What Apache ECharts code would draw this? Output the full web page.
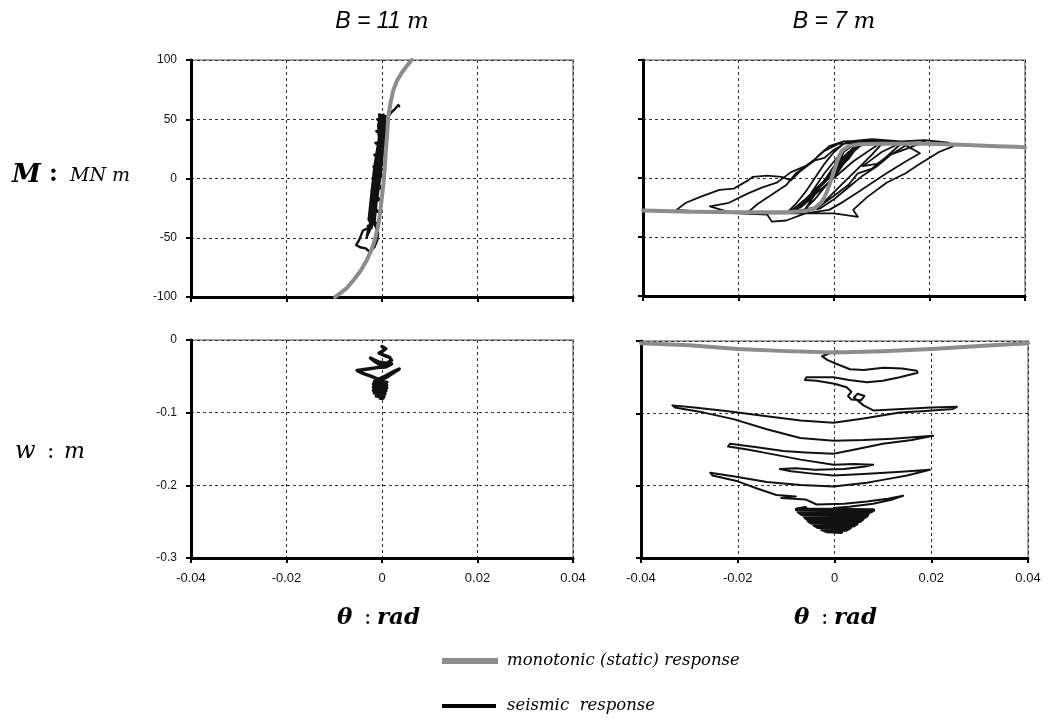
<!DOCTYPE html>
<html>
<head>
<meta charset="utf-8">
<script src="https://cdn.jsdelivr.net/npm/echarts@6/dist/echarts.min.js"></script>
<style>
html,body{margin:0;padding:0;background:#fff;}
#chart{width:1048px;height:724px;}
</style>
</head>
<body>
<div id="chart"></div>
<script>
// ---------- data (theta [rad], value) ----------
const xTicks = [-0.04, -0.02, 0, 0.02, 0.04];
const momentTicks = [-100, -50, 0, 50, 100];
const settleTicks = [-0.3, -0.2, -0.1, 0];

// B = 11 m, moment M (MN m)
const monoB11_M = [
  [-0.0098,-100],[-0.0075,-93],[-0.0060,-86],[-0.0045,-78],[-0.0032,-69],[-0.0022,-60],
  [-0.0015,-52],[-0.0008,-40],[-0.0004,-29],[0.0000,-15],[0.0003,-4],[0.0006,10],
  [0.0008,24],[0.0011,38],[0.0013,52],[0.0018,64],[0.0024,75],[0.0032,83],
  [0.0041,89],[0.0052,95],[0.0062,100]
];
const seisB11_M = [
  [-0.0030,-40],[-0.0012,-38],[-0.0026,-30],[-0.0008,-28],[-0.0024,-20],[-0.0004,-18],
  [-0.0022,-10],[0.0000,-8],[-0.0020,0],[0.0004,2],[-0.0018,10],[0.0006,12],[-0.0016,20],
  [0.0008,22],[-0.0014,30],[0.0010,32],[-0.0012,40],[0.0012,42],[-0.0010,50],[0.0014,52],
  [-0.0006,54],[-0.0004,40],[-0.0016,10],[-0.0028,-35],[-0.0020,-38],[-0.0006,5],
  [0.0004,45],[0.0008,52],[0.0002,30],[-0.0006,0],[-0.0014,-25],[-0.0022,-40],
  [-0.0028,-46],[-0.0020,-30],[-0.0014,-5],[-0.0008,20],[-0.0004,40],[-0.0002,50],
  [0.0003,54],[0.0006,45],[-0.0002,20],[-0.0010,-8],[-0.0018,-28],[-0.0030,-45],
  [-0.0032,-50],[-0.0024,-40],[-0.0016,-15],[-0.0010,10],[-0.0006,30],[-0.0008,45],
  [-0.0004,52],[0.0002,48],[-0.0004,25],[-0.0012,-2],[-0.0020,-22],[-0.0026,-36],
  [-0.0022,-42],[-0.0012,-20],[-0.0006,5],[0.0000,28],[0.0006,48],
  [-0.0004,35],[-0.0012,10],[-0.0020,-15],[-0.0024,-32],[-0.0018,-38],[-0.0030,-42],
  [-0.0040,-44],[-0.0048,-52],[-0.0054,-56],[-0.0046,-58],[-0.0034,-59],[-0.0026,-62],
  [-0.0016,-58],[-0.0010,-52],[-0.0008,-46],[-0.0016,-38],[-0.0012,-22],[-0.0004,0],
  [0.0002,22],[0.0008,42],[0.0012,52],[0.0020,56],[0.0028,59],[0.0034,62],[0.0036,61]
];

// B = 7 m, moment M (MN m)
const monoB7_M = [
  [-0.040,-27.5],[-0.030,-28.5],[-0.020,-29],[-0.010,-29],[-0.006,-28],[-0.004,-25.5],
  [-0.0025,-20],[-0.0015,-12],[-0.0008,-4],[0.0000,6],[0.0008,16],[0.0016,23],
  [0.0030,27],[0.0050,28.5],[0.0100,29],[0.0200,29],[0.0280,28],[0.0340,27],
  [0.0380,26.5],[0.0400,26]
];
const seisB7_M = [
  [0.000,0],[0.001,12],[0.002,22],[0.004,28],[0.007,30],[0.010,29],
  [0.008,20],[0.005,8],[0.002,-4],[-0.001,-16],[-0.003,-24],[-0.006,-29],[-0.010,-30],
  [-0.008,-22],[-0.006,-12],[-0.004,0],[-0.002,12],[0.000,22],[0.002,29],[0.006,31],[0.012,30],[0.016,30],
  [0.012,20],[0.009,10],[0.006,2],[0.003,-8],[0.000,-18],[-0.003,-26],[-0.008,-29],[-0.014,-30],[-0.018,-29],
  [-0.016,-22],[-0.013,-14],[-0.010,-6],[-0.008,4],[-0.006,9],[-0.004,15],[-0.002,17],[0.000,24],
  [0.003,31],[0.008,33],[0.014,31],[0.019,32],[0.024,30],[0.025,27],
  [0.022,22],[0.018,12],[0.015,4],[0.011,-4],[0.007,-16],[0.004,-27],[0.005,-33],[0.000,-30],
  [-0.006,-30],[-0.010,-36],[-0.013,-37],[-0.014,-31],[-0.020,-30],[-0.026,-29],[-0.033,-27],
  [-0.031,-21],[-0.028,-16],[-0.024,-10],[-0.021,-9],[-0.018,-2],[-0.017,1],[-0.014,2],
  [-0.011,1],[-0.009,-2],[-0.007,6],[-0.005,12],[-0.003,20],[-0.001,27],[0.002,31],
  [0.008,32],[0.014,30],[0.018,21],
  [0.015,14],[0.011,4],[0.008,-4],[0.005,-12],[0.002,-20],[-0.001,-27],[-0.006,-30],
  [-0.012,-30],[-0.022,-29],[-0.026,-24],
  [-0.022,-21],[-0.018,-13],[-0.015,-8],[-0.012,-4],[-0.009,5],[-0.006,10],[-0.004,16],
  [-0.002,23],[0.001,29],[0.006,30],[0.014,29],
  [0.011,18],[0.008,8],[0.005,4],[0.003,-6],[0.000,-15],[-0.003,-24],[-0.008,-28],
  [-0.006,-20],[-0.004,-8],[-0.002,4],[0.000,14],[0.002,24],[0.005,29],
  [0.003,18],[0.001,6],[-0.002,-8],[-0.004,-18],[-0.006,-26],
  [-0.004,-14],[-0.002,-2],[0.000,10],[0.003,22],[0.006,28],[0.010,30],
  [0.008,25],[0.004,14],[0.000,0],[-0.004,-14],[-0.007,-24],[-0.009,-28],
  [-0.006,-18],[-0.003,-6],[0.000,6],[0.002,16],[0.004,26],[0.002,14],[-0.001,2],
  [-0.004,-10],[-0.006,-20],[-0.008,-26],[-0.005,-14],[-0.002,-2],[0.001,10],[0.003,20],
  [0.005,27],[0.003,16],[0.000,4],[-0.003,-8],[-0.005,-18],[-0.007,-25],[-0.004,-12],
  [-0.001,0],[0.002,12],[0.004,22],[0.006,29],[0.009,31],[0.012,31],[0.013,28],
  [0.010,22],[0.008,16],[0.006,10],[0.009,12],[0.012,20],[0.016,26],[0.019,31]
];

// B = 11 m, settlement w (m)
const seisB11_w = [
  [0.0000,-0.009],[0.0008,-0.012],[0.0002,-0.015],[-0.0006,-0.018],[0.0004,-0.021],
  [0.0016,-0.024],[0.0020,-0.028],[0.0010,-0.032],[-0.0004,-0.031],[-0.0018,-0.027],
  [-0.0024,-0.025],[-0.0016,-0.029],[-0.0004,-0.034],[0.0010,-0.036],[0.0020,-0.033],
  [0.0008,-0.037],[-0.0010,-0.038],[-0.0030,-0.040],[-0.0052,-0.042],[-0.0056,-0.044],
  [-0.0040,-0.046],[-0.0022,-0.050],[-0.0008,-0.054],[0.0006,-0.050],[0.0020,-0.045],
  [0.0036,-0.040],[0.0040,-0.038],[0.0026,-0.044],[0.0010,-0.051],[-0.0004,-0.056],
  [-0.0016,-0.057],[0.0010,-0.058],[-0.0018,-0.061],[0.0010,-0.062],[-0.0018,-0.065],
  [0.0010,-0.066],[-0.0018,-0.069],[0.0008,-0.070],[-0.0016,-0.073],[0.0006,-0.074],
  [-0.0012,-0.077],[0.0004,-0.078],[-0.0004,-0.080],[0.0002,-0.080]
];

// B = 7 m, settlement w (m)
const monoB7_w = [
  [-0.040,-0.003],[-0.030,-0.006],[-0.020,-0.011],[-0.010,-0.014],[0.000,-0.016],
  [0.010,-0.014],[0.020,-0.011],[0.030,-0.007],[0.040,-0.003]
];
const seisB7_w = [
  [0.0005,-0.014],[-0.0010,-0.017],[-0.0026,-0.021],[-0.0015,-0.026],[-0.0002,-0.030],
  [0.0032,-0.039],[0.0060,-0.040],[0.0101,-0.037],[0.0140,-0.038],[0.0170,-0.041],
  [0.0172,-0.044],[0.0135,-0.050],[0.0100,-0.055],[0.0067,-0.057],[0.0030,-0.054],
  [-0.0002,-0.050],[-0.0040,-0.050],[-0.0058,-0.050],[-0.0061,-0.054],[-0.0037,-0.055],
  [0.0000,-0.059],[0.0025,-0.064],[0.0035,-0.070],[0.0028,-0.076],[0.0035,-0.081],
  [0.0055,-0.082],[0.0062,-0.076],[0.0048,-0.073],[0.0040,-0.078],[0.0060,-0.089],
  [0.0080,-0.096],[0.0140,-0.094],[0.0200,-0.092],[0.0253,-0.091],[0.0245,-0.094],
  [0.0180,-0.097],[0.0135,-0.099],[0.0060,-0.107],[-0.0002,-0.113],[-0.0070,-0.110],
  [-0.0140,-0.104],[-0.0220,-0.097],[-0.0290,-0.092],[-0.0335,-0.089],[-0.0330,-0.092],
  [-0.0270,-0.099],[-0.0209,-0.108],[-0.0140,-0.122],[-0.0071,-0.134],[-0.0002,-0.138],
  [0.0060,-0.137],[0.0120,-0.135],[0.0204,-0.131],[0.0160,-0.137],[0.0100,-0.142],
  [0.0050,-0.149],[-0.0002,-0.156],[-0.0060,-0.154],[-0.0106,-0.152],[-0.0160,-0.147],
  [-0.0216,-0.142],[-0.0220,-0.146],[-0.0180,-0.150],[-0.0140,-0.155],[-0.0070,-0.164],
  [-0.0002,-0.171],[0.0040,-0.170],[0.0080,-0.171],[0.0060,-0.174],[0.0020,-0.177],
  [-0.0040,-0.178],[-0.0080,-0.176],[-0.0113,-0.177],[-0.0090,-0.180],[-0.0050,-0.183],
  [-0.0002,-0.186],[0.0060,-0.184],[0.0130,-0.181],[0.0197,-0.178],[0.0150,-0.186],
  [0.0100,-0.192],[0.0067,-0.196],[-0.0002,-0.201],[-0.0070,-0.199],[-0.0140,-0.195],
  [-0.0200,-0.188],[-0.0257,-0.182],[-0.0252,-0.186],[-0.0200,-0.194],[-0.0160,-0.204],
  [-0.0120,-0.213],[-0.0080,-0.215],[-0.0110,-0.217],[-0.0060,-0.219],[-0.0037,-0.226],
  [0.0020,-0.225],[0.0067,-0.222],[0.0110,-0.218],[0.0142,-0.214],[0.0120,-0.219],
  [0.0080,-0.225],[0.0030,-0.229],[-0.0002,-0.231]
];
// dense bowl at the bottom of the B = 7 m settlement path
const seisB7_wCore = [
  [-0.0060,-0.231],[-0.0078,-0.233],[0.0080,-0.234],[0.0070,-0.237],[-0.0074,-0.236],
  [-0.0068,-0.239],[0.0068,-0.240],[0.0064,-0.243],[-0.0062,-0.242],[-0.0058,-0.245],
  [0.0058,-0.246],[0.0052,-0.249],[-0.0054,-0.248],[-0.0048,-0.251],[0.0046,-0.252],
  [0.0040,-0.255],[-0.0042,-0.254],[-0.0034,-0.257],[0.0032,-0.258],[0.0024,-0.261],
  [-0.0026,-0.260],[-0.0016,-0.263],[0.0014,-0.264],[0.0000,-0.264]
];

// ---------- chart ----------
const chart = echarts.init(document.getElementById('chart'), null, {renderer:'canvas'});

const GRAY = '#8c8c8c';
const BORDER = '#a8a8a8';
const serif = 'DejaVu Serif';
const sans = 'Liberation Sans';

const grids = [
  {left:191, top:60, width:382, height:237},
  {left:643, top:60, width:382, height:236},
  {left:191, top:340, width:382, height:218},
  {left:641, top:341, width:387, height:217}
].map(g => Object.assign({show:true, borderColor:BORDER, borderWidth:2, backgroundColor:'#fff'}, g));

function xAx(i, showLabels){
  return {
    type:'value', gridIndex:i, min:xTicks[0], max:xTicks[xTicks.length-1], interval:0.02,
    axisLine:{show:true, onZero:false, lineStyle:{color:'#000', width:3}},
    axisTick:{show:true, length:5, lineStyle:{color:'#000', width:2}},
    axisLabel:{show:showLabels, margin:14, color:'#111', fontFamily:sans, fontSize:13,
      formatter:v => String(Math.round(v*100)/100)},
    splitLine:{show:true, lineStyle:{color:'#333', width:1, type:[3,3]}}
  };
}
function yAx(i, min, max, interval, showLabels, dec){
  return {
    type:'value', gridIndex:i, min:min, max:max, interval:interval,
    axisLine:{show:true, onZero:false, lineStyle:{color:'#000', width:3}},
    axisTick:{show:true, length:5, lineStyle:{color:'#000', width:2}},
    axisLabel:{show:showLabels, margin:14, color:'#111', fontFamily:sans, fontSize:12,
      formatter:v => String(Math.round(v*dec)/dec)},
    splitLine:{show:true, lineStyle:{color:'#333', width:1, type:[3,3]}}
  };
}

function line(data, xi, color, width, z){
  return {type:'line', xAxisIndex:xi, yAxisIndex:xi, data:data, showSymbol:false, symbol:'none',
    lineStyle:{color:color, width:width, join:'round', cap:'round'}, z:z, clip:true, animation:false};
}

function txt(x, y, text, font, size, opts){
  return {type:'text', x:x, y:y, style:Object.assign({text:text, fontFamily:font, fontSize:size,
    fill:'#000', textVerticalAlign:'middle'}, opts||{})};
}

chart.setOption({
  animation:false,
  backgroundColor:'#fff',
  grid:grids,
  xAxis:[xAx(0,false), xAx(1,false), xAx(2,true), xAx(3,true)],
  yAxis:[
    yAx(0, momentTicks[0], momentTicks[4], 50, true, 1),
    yAx(1, momentTicks[0], momentTicks[4], 50, false, 1),
    yAx(2, settleTicks[0], settleTicks[3], 0.1, true, 10),
    yAx(3, settleTicks[0], settleTicks[3], 0.1, false, 10)
  ],
  series:[
    line(seisB11_M, 0, '#111', 2.4, 2),
    line(monoB11_M, 0, GRAY, 4, 3),
    line(seisB7_M, 1, '#111', 1.8, 2),
    line(monoB7_M, 1, GRAY, 4, 3),
    line(seisB11_w, 2, '#111', 3.5, 2),
    line(seisB7_w, 3, '#111', 2, 2),
    line(seisB7_wCore, 3, '#111', 4, 2),
    line(monoB7_w, 3, GRAY, 4, 3)
  ],
  graphic:[
    // column titles
    {type:'text', x:382, y:22, style:{rich:{a:{fontFamily:sans, fontStyle:'italic', fontSize:23, fill:'#000'},
      b:{fontFamily:serif, fontStyle:'italic', fontSize:23, fill:'#000'}},
      text:'{a|B = 11 }{b|m}', textAlign:'center', textVerticalAlign:'middle'}},
    {type:'text', x:834, y:22, style:{rich:{a:{fontFamily:sans, fontStyle:'italic', fontSize:23, fill:'#000'},
      b:{fontFamily:serif, fontStyle:'italic', fontSize:23, fill:'#000'}},
      text:'{a|B = 7 }{b|m}', textAlign:'center', textVerticalAlign:'middle'}},
    // row labels
    txt(12, 175, 'M', serif, 26, {fontStyle:'italic', fontWeight:'bold'}),
    txt(49, 175, ':', serif, 24, {fontWeight:'bold'}),
    txt(70, 176, 'MN m', serif, 19, {fontStyle:'italic'}),
    txt(15, 452, 'w', serif, 24, {fontStyle:'italic'}),
    txt(47, 452, ':', serif, 22, {}),
    txt(64, 452, 'm', serif, 22, {fontStyle:'italic'}),
    // x titles
    txt(337, 618, 'θ', serif, 23, {fontStyle:'italic', fontWeight:'bold'}),
    txt(364, 618, ':', serif, 22, {}),
    txt(377, 618, 'rad', serif, 23, {fontStyle:'italic', fontWeight:'bold'}),
    txt(794, 618, 'θ', serif, 23, {fontStyle:'italic', fontWeight:'bold'}),
    txt(821, 618, ':', serif, 22, {}),
    txt(834, 618, 'rad', serif, 23, {fontStyle:'italic', fontWeight:'bold'}),
    // legend
    {type:'line', shape:{x1:442, y1:661, x2:498, y2:661}, style:{stroke:GRAY, lineWidth:6}},
    txt(507, 661, 'monotonic (static) response', serif, 16.5, {fontStyle:'italic'}),
    {type:'line', shape:{x1:442, y1:706, x2:496, y2:706}, style:{stroke:'#000', lineWidth:4}},
    txt(507, 706, 'seismic  response', serif, 16.5, {fontStyle:'italic'})
  ]
});
</script>
</body>
</html>
